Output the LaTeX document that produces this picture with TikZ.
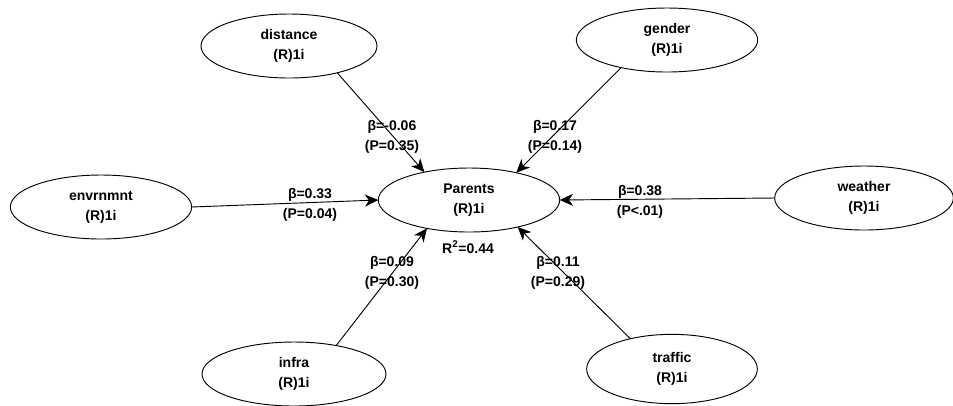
\documentclass[tikz,border=0pt]{standalone}
\usepackage{fontspec}
\setmainfont{Liberation Sans}
\usetikzlibrary{shapes.geometric, arrows.meta}

\tikzset{
 latent/.style = {ellipse, draw, line width=0.7pt, minimum width=136pt, minimum height=48pt,
  inner sep=0pt, outer sep=0pt, align=center, font=\bfseries\fontsize{10.5}{15}\selectfont},
 effect/.style = {line width=0.7pt, -{Stealth[length=10pt, width=9pt, inset=3pt]}},
 coef/.style = {align=center, inner sep=0pt, font=\bfseries\fontsize{10.5}{14.5}\selectfont}
}

\begin{document}
\begin{tikzpicture}[x = 0.75pt, y = -0.75pt]
 \useasboundingbox (0, 0) rectangle (953, 405);

 % constructs
 \node[latent] (par) at (469, 200) {Parents\\(R)1i};
 \node[latent, minimum width=132pt] (dist) at (289, 46) {distance\\(R)1i};
 \node[latent] (gend) at (667, 40) {gender\\(R)1i};
 \node[latent] (env) at (101, 207) {envrnmnt\\(R)1i};
 \node[latent, minimum width=134pt] (wea) at (864, 198) {weather\\(R)1i};
 \node[latent, minimum width=138pt] (infra) at (294, 374) {infra\\(R)1i};
 \node[latent, minimum width=128pt, minimum height=52pt] (traf) at (672, 369) {traffic\\(R)1i};

 % paths
 \draw[effect] (dist.-29) -- (par.148);
 \draw[effect] (gend.211) -- (par.30);
 \draw[effect] (env.east) -- (par.west);
 \draw[effect] (wea.west) -- (par.east);
 \draw[effect] (infra.34) -- (par.214);
 \draw[effect] (traf.144) -- (par.-29);

 % coefficients
 \node[coef] (cdist) at (392, 137) {β=-0.06\\(P=0.35)};
 \node[coef] (cgend) at (555, 137) {β=0.17\\(P=0.14)};
 \node[coef] (cenv) at (310, 205) {β=0.33\\(P=0.04)};
 \node[coef] (cwea) at (640, 202) {β=0.38\\(P<.01)};
 \node[coef] (cinfra) at (392, 273) {β=0.09\\(P=0.30)};
 \node[coef] (ctraf) at (558, 273) {β=0.11\\(P=0.29)};
 \node[coef] (rsq) at (468, 247) {R\textsuperscript{2}=0.44};
\end{tikzpicture}
\end{document}
